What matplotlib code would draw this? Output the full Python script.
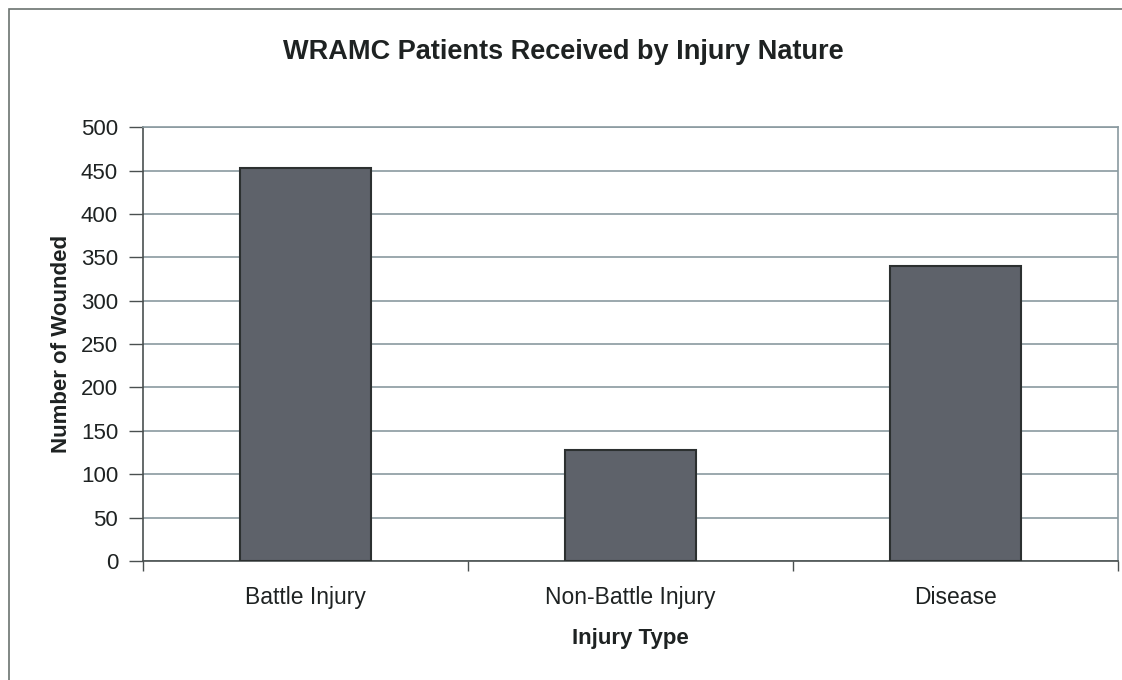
import matplotlib.pyplot as plt
from matplotlib.patches import Rectangle
import numpy as np

plt.rcParams['font.family'] = ['Liberation Sans', 'DejaVu Sans']

# Patients by nature of injury
categories = ['Battle Injury', 'Non-Battle Injury', 'Disease']
patients = [453, 128, 340]
y_ticks = [0, 50, 100, 150, 200, 250, 300, 350, 400, 450, 500]

fig = plt.figure(figsize=(11.22, 6.8), dpi=100)
ax = fig.add_axes([0.1275, 0.175, 0.869, 0.638])

# outer chart border
fig.patches.append(Rectangle((9 / 1122, -0.1), 1.2, 1 - 9 / 680 + 0.1,
                             transform=fig.transFigure, fill=False,
                             edgecolor='#6b7370', linewidth=1.2))

x = np.arange(len(categories))
ax.bar(x, patients, width=0.405, color='#5e626a', edgecolor='#2c3030',
       linewidth=1.5, zorder=3)

ax.set_xlim(-0.5, len(categories) - 0.5)
ax.set_ylim(0, 500)
ax.set_yticks(y_ticks)
ax.set_yticklabels([str(v) for v in y_ticks], fontsize=16, color='#1e2222')
ax.yaxis.grid(True, color='#8a9aa0', linewidth=1.2, zorder=0)
ax.tick_params(axis='y', length=10, width=1, color='#4a5050', pad=8)

# category labels between boundary ticks
ax.set_xticks(np.arange(-0.5, len(categories)), minor=False)
ax.set_xticklabels([])
ax.set_xticks(x, minor=True)
ax.set_xticklabels(categories, minor=True, fontsize=16.5, color='#1e2222')
ax.tick_params(axis='x', which='major', length=7, width=1, color='#4a5050')
ax.tick_params(axis='x', which='minor', length=0, pad=18)

for side in ['top', 'right']:
    ax.spines[side].set_color('#8a9aa0')
    ax.spines[side].set_linewidth(1.2)
for side in ['left', 'bottom']:
    ax.spines[side].set_color('#4a5050')
    ax.spines[side].set_linewidth(1.2)

ax.set_ylabel('Number of Wounded', fontsize=16, fontweight='bold', labelpad=6,
              color='#1e2222')
ax.set_xlabel('Injury Type', fontsize=16, fontweight='bold', labelpad=14,
              color='#1e2222')
fig.text(0.502, 0.923, 'WRAMC Patients Received by Injury Nature',
         ha='center', va='center', fontsize=19.5, fontweight='bold',
         color='#1e2222')

fig.savefig('out.png', dpi=100)
